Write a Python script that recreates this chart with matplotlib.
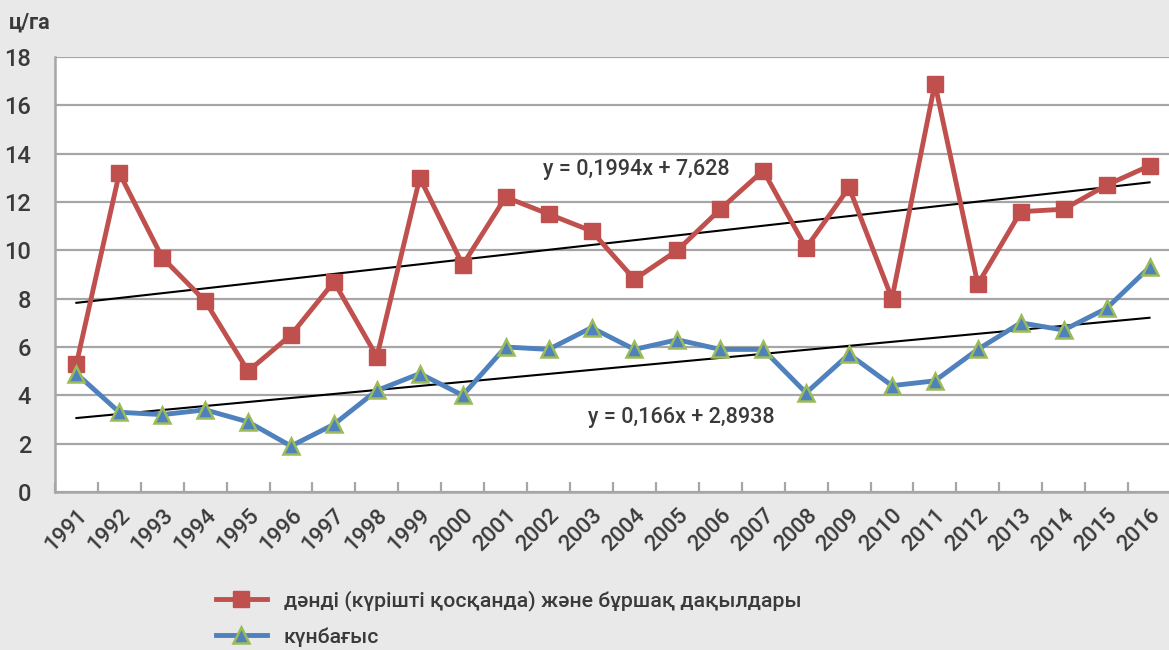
import numpy as np
import matplotlib
matplotlib.use("Agg")
import matplotlib.pyplot as plt

plt.rcParams['font.family'] = ['Roboto', 'Open Sans', 'DejaVu Sans']

years = [str(y) for y in range(1991, 2017)]
grain = [5.3, 13.2, 9.7, 7.9, 5.0, 6.5, 8.7, 5.6, 13.0, 9.4, 12.2, 11.5, 10.8,
         8.8, 10.0, 11.7, 13.3, 10.1, 12.6, 8.0, 16.9, 8.6, 11.6, 11.7, 12.7, 13.5]
sunflower = [4.9, 3.3, 3.2, 3.4, 2.9, 1.9, 2.8, 4.2, 4.9, 4.0, 6.0, 5.9, 6.8,
             5.9, 6.3, 5.9, 5.9, 4.1, 5.7, 4.4, 4.6, 5.9, 7.0, 6.7, 7.6, 9.3]
labels = ['дәнді (күрішті қосқанда) және бұршақ дақылдары', 'күнбағыс']
trend_grain = (0.1994, 7.628)
trend_sun = (0.166, 2.8938)
yticks = [0, 2, 4, 6, 8, 10, 12, 14, 16, 18]

text_col = '#3a3a3a'
grid_col = '#a6a6a6'
fw = 'medium'

fig = plt.figure(figsize=(11.69, 6.5), dpi=100)
fig.patch.set_facecolor('#e9e9e9')
ax = fig.add_axes([0.047, 0.2431, 0.9547, 0.6692])
ax.set_facecolor('white')

x = np.arange(len(years))
ax.plot(x, grain, color='#c0504d', lw=3.5, marker='s', ms=11,
        mfc='#c0504d', mec='#c0504d', label=labels[0], zorder=4)
ax.plot(x, sunflower, color='#4f81bd', lw=3.5, marker='^', ms=11.5,
        mfc='#4f81bd', mec='#9bbb59', mew=1.8, label=labels[1], zorder=4)

# linear trendlines (x = 1..26 as in Excel)
xt = np.array([x[0], x[-1]])
ax.plot(xt, trend_grain[0] * (xt + 1) + trend_grain[1], color='black', lw=1.5, zorder=3)
ax.plot(xt, trend_sun[0] * (xt + 1) + trend_sun[1], color='black', lw=1.5, zorder=3)

ax.text(13.05, 13.35, 'y = 0,1994x + 7,628', fontsize=15.5, fontweight=fw,
        color=text_col, ha='center', va='center')
ax.text(14.1, 3.1, 'y = 0,166x + 2,8938', fontsize=15.5, fontweight=fw,
        color=text_col, ha='center', va='center')

ax.set_xlim(-0.5, len(years) - 0.5)
ax.set_ylim(0, 18)
ax.set_yticks(yticks)
ax.set_yticklabels([str(v) for v in yticks], fontsize=17, fontweight=fw, color=text_col)
ax.yaxis.grid(True, color=grid_col, lw=1.6)
ax.set_axisbelow(True)
ax.tick_params(axis='y', length=0, pad=17)

ax.set_xticks(x)
ax.set_xticklabels(years, rotation=45, ha='right', rotation_mode='anchor',
                   fontsize=16, fontweight=fw, color=text_col)
ax.set_xticks(np.arange(-0.5, len(years), 1), minor=True)
ax.tick_params(axis='x', which='major', length=0, pad=9)
ax.tick_params(axis='x', which='minor', direction='in', length=7, color=grid_col, width=1.6)

for s in ['top', 'right']:
    ax.spines[s].set_visible(False)
for s in ['left', 'bottom']:
    ax.spines[s].set_color(grid_col)
    ax.spines[s].set_linewidth(1.8)

fig.text(0.008, 0.965, 'ц/га', fontsize=15.5, fontweight='bold', color=text_col, va='center')

leg = fig.legend(loc='upper left', frameon=False, prop={'size': 15.3, 'weight': fw},
                 labelcolor=text_col, handlelength=2.4, labelspacing=0.75,
                 handletextpad=0.8)
leg.set_bbox_to_anchor((0.168, 0.121), transform=fig.transFigure)

fig.savefig('out.png', dpi=100, facecolor=fig.get_facecolor())
